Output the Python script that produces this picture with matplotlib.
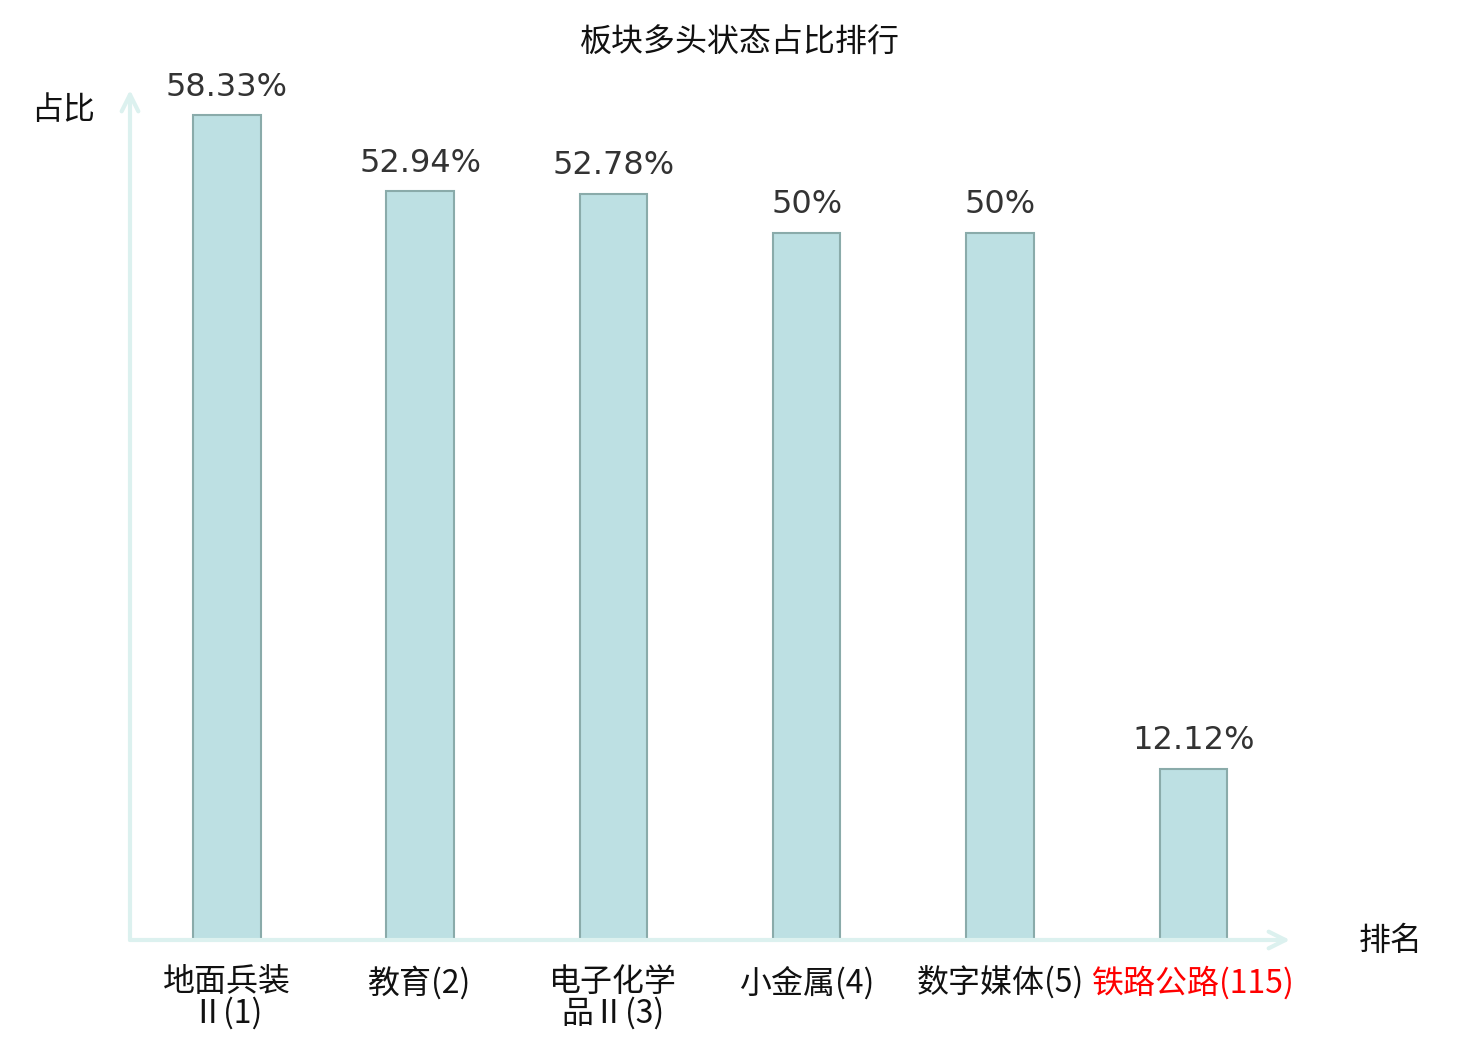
import matplotlib.pyplot as plt

plt.rcParams['font.family'] = ['Noto Sans CJK SC', 'DejaVu Sans']

categories = ["地面兵装\nⅡ(1)", "教育(2)", "电子化学\n品Ⅱ(3)", "小金属(4)", "数字媒体(5)", "铁路公路(115)"]
values = [58.33, 52.94, 52.78, 50, 50, 12.12]
value_labels = ["58.33%", "52.94%", "52.78%", "50%", "50%", "12.12%"]
label_colors = ["#111111"] * 5 + ["#ff0000"]

W, H = 1480, 1040
DPI = 100
fig = plt.figure(figsize=(W / DPI, H / DPI), dpi=DPI)
ax = fig.add_axes([130 / W, 100 / H, 1160 / W, 850 / H])

xs = list(range(len(values)))
ax.bar(xs, values, width=0.35, color="#bde0e3", edgecolor="#8aabaa", linewidth=1.5)

for x, v, lab in zip(xs, values, value_labels):
    ax.annotate(lab, (x, v), xytext=(0, 9), textcoords="offset points",
                ha="center", va="bottom", fontsize=23, color="#333333",
                family="DejaVu Sans")

ax.set_xlim(-0.5, 5.5)
ax.set_ylim(0, 60.1)
for s in ax.spines.values():
    s.set_visible(False)
ax.set_yticks([])
ax.set_xticks(xs)
ax.set_xticklabels(categories, fontsize=23, linespacing=0.95)
for t, c in zip(ax.get_xticklabels(), label_colors):
    t.set_color(c)
ax.tick_params(axis="x", length=0, pad=19)

axis_col = "#dcf1ef"
ax.annotate("", xy=(1.0, 0), xytext=(0, 0), xycoords="axes fraction",
            arrowprops=dict(arrowstyle="->", color=axis_col, lw=3, mutation_scale=30,
                            shrinkA=0, shrinkB=0), annotation_clip=False)
ax.annotate("", xy=(0, 1.0), xytext=(0, 0), xycoords="axes fraction",
            arrowprops=dict(arrowstyle="->", color=axis_col, lw=3, mutation_scale=30,
                            shrinkA=0, shrinkB=0), annotation_clip=False)

fig.text(740 / W, 1 - 43 / H, "板块多头状态占比排行", ha="center", va="center", fontsize=23, color="#111111")
fig.text(63 / W, 1 - 110 / H, "占比", ha="center", va="center", fontsize=23, color="#111111")
fig.text(1391 / W, 1 - 941 / H, "排名", ha="center", va="center", fontsize=23, color="#111111")

fig.savefig("out.png", dpi=DPI)
